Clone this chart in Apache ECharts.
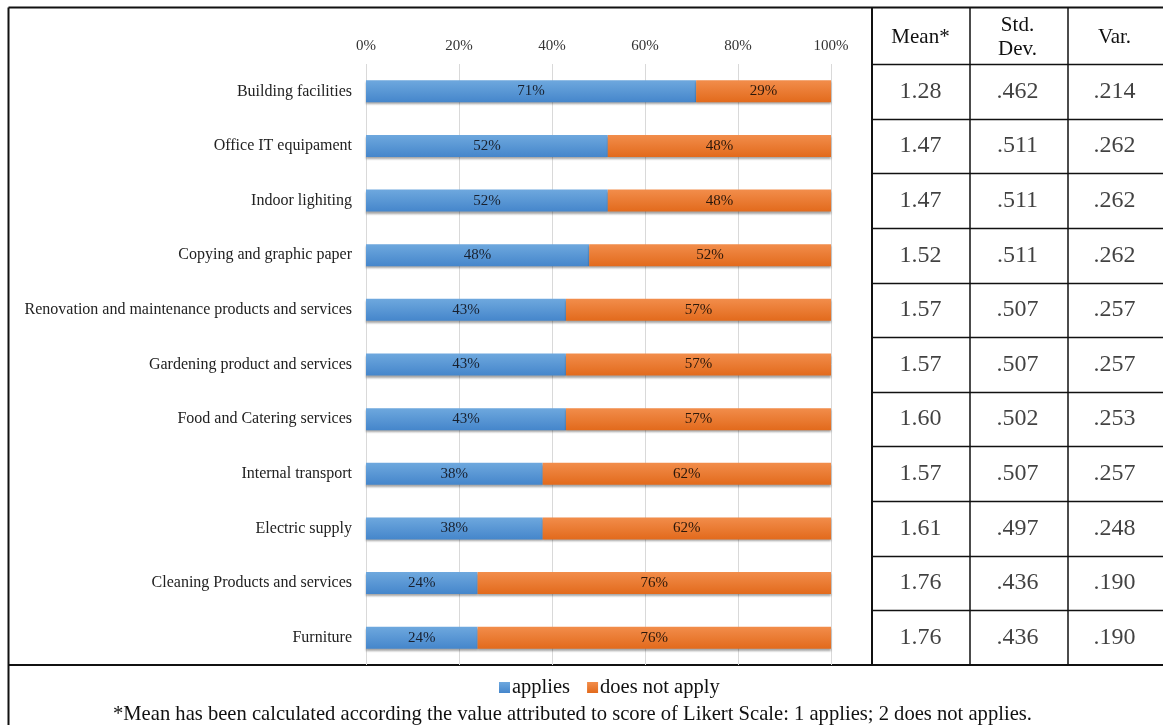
<!DOCTYPE html>
<html>
<head>
<meta charset="utf-8">
<script src="https://cdn.jsdelivr.net/npm/echarts@6/dist/echarts.min.js"></script>
<style>
  html, body { margin: 0; padding: 0; background: #fff; }
  #chart { width: 1163px; height: 725px; }
</style>
</head>
<body>
<div id="chart"></div>
<script>
// Procurement categories and share of respondents
const categories = [
  'Building facilities',
  'Office IT equipament',
  'Indoor lighiting',
  'Copying and graphic paper',
  'Renovation and maintenance products and services',
  'Gardening product and services',
  'Food and Catering services',
  'Internal transport',
  'Electric supply',
  'Cleaning Products and services',
  'Furniture'
];
const applies      = [71, 52, 52, 48, 43, 43, 43, 38, 38, 24, 24];
const doesNotApply = [29, 48, 48, 52, 57, 57, 57, 62, 62, 76, 76];

// Descriptive statistics per category
const tableHeaders = ['Mean*', 'Std.\nDev.', 'Var.'];
const meanVals = ['1.28', '1.47', '1.47', '1.52', '1.57', '1.57', '1.60', '1.57', '1.61', '1.76', '1.76'];
const stdVals  = ['.462', '.511', '.511', '.511', '.507', '.507', '.502', '.507', '.497', '.436', '.436'];
const varVals  = ['.214', '.262', '.262', '.262', '.257', '.257', '.253', '.257', '.248', '.190', '.190'];

const xTicks = [0, 20, 40, 60, 80, 100];
const footnote = '*Mean has been calculated according the value attributed to score of Likert Scale: 1 applies; 2 does not applies.';

const FONT = '"Liberation Serif", "Times New Roman", serif';

// layout
const W = 1163, H = 725;
const FRAME_L = 8.5, FRAME_T = 7.5;
const ROWS_TOP = 64, ROWS_BOTTOM = 665;
const TABLE_L = 872, TABLE_R = 1163;
const COL_X = [872, 970, 1068, 1163];

function grad(top, bottom) {
  return new echarts.graphic.LinearGradient(0, 0, 0, 1, [
    { offset: 0, color: top }, { offset: 1, color: bottom }
  ]);
}

// table cell data [col, row, text]
const cellData = [];
[meanVals, stdVals, varVals].forEach((arr, c) => {
  arr.forEach((v, r) => cellData.push([c, r, v]));
});

// table rules
const lines = [];
function hline(x1, x2, y, w) {
  lines.push({ type: 'line', shape: { x1, y1: y, x2, y2: y }, style: { stroke: '#111', lineWidth: w || 1.5 } });
}
function vline(x, y1, y2, w) {
  lines.push({ type: 'line', shape: { x1: x, y1, x2: x, y2 }, style: { stroke: '#111', lineWidth: w || 1.5 } });
}
hline(FRAME_L, W, FRAME_T, 2);
vline(FRAME_L, FRAME_T, H, 2);
hline(FRAME_L, W, ROWS_BOTTOM, 2);
vline(COL_X[0], FRAME_T, ROWS_BOTTOM, 2);
vline(COL_X[1], FRAME_T, ROWS_BOTTOM, 1.5);
vline(COL_X[2], FRAME_T, ROWS_BOTTOM, 1.5);
const rowH = (ROWS_BOTTOM - ROWS_TOP) / categories.length;
for (let i = 0; i < categories.length; i++) {
  hline(TABLE_L, TABLE_R, Math.round(ROWS_TOP + i * rowH) + 0.5, 1.5);
}

const chart = echarts.init(document.getElementById('chart'), null, { renderer: 'canvas' });

const option = {
  backgroundColor: '#fff',
  animation: false,
  textStyle: { fontFamily: FONT },
  grid: [
    { left: 366, right: W - 831, top: ROWS_TOP, bottom: H - ROWS_BOTTOM },
    { left: TABLE_L, right: W - TABLE_R, top: ROWS_TOP, bottom: H - ROWS_BOTTOM }
  ],
  legend: {
    data: ['applies', 'does not apply'],
    left: 494,
    top: 672,
    itemWidth: 11,
    itemHeight: 11,
    itemGap: 17,
    icon: 'rect',
    textStyle: { fontFamily: FONT, fontSize: 20.5, color: '#111', padding: [0, 0, 0, -3] }
  },
  xAxis: [
    {
      gridIndex: 0,
      type: 'value',
      position: 'top',
      min: 0,
      max: 100,
      interval: 20,
      axisLine: { show: false },
      axisTick: { show: false },
      axisLabel: { formatter: '{value}%', fontFamily: FONT, fontSize: 15, color: '#333', margin: 10 },
      splitLine: { show: true, lineStyle: { color: '#d9d9d9', width: 1 } }
    },
    {
      gridIndex: 1,
      type: 'category',
      position: 'top',
      data: tableHeaders,
      axisLine: { show: false },
      axisTick: { show: false },
      axisLabel: { fontFamily: FONT, fontSize: 21, color: '#111', margin: 27, verticalAlign: 'middle', lineHeight: 24, interval: 0 }
    }
  ],
  yAxis: [
    {
      gridIndex: 0,
      type: 'category',
      inverse: true,
      data: categories,
      axisLine: { show: false },
      axisTick: { show: false },
      axisLabel: { fontFamily: FONT, fontSize: 16, color: '#222', margin: 14, interval: 0 }
    },
    {
      gridIndex: 1,
      type: 'category',
      inverse: true,
      data: categories,
      show: false
    }
  ],
  series: [
    {
      name: 'applies',
      type: 'bar',
      stack: 'share',
      xAxisIndex: 0, yAxisIndex: 0,
      data: applies,
      barWidth: 22,
      itemStyle: {
        color: grad('#6ea8de', '#4586cb'),
        shadowColor: 'rgba(0,0,0,0.35)', shadowBlur: 2, shadowOffsetY: 2
      },
      label: { show: true, position: 'inside', formatter: '{c}%', fontFamily: FONT, fontSize: 15, color: '#18202e' }
    },
    {
      name: 'does not apply',
      type: 'bar',
      stack: 'share',
      xAxisIndex: 0, yAxisIndex: 0,
      data: doesNotApply,
      barWidth: 22,
      itemStyle: {
        color: grad('#f28d4b', '#e26a1c'),
        shadowColor: 'rgba(0,0,0,0.35)', shadowBlur: 2, shadowOffsetY: 2
      },
      label: { show: true, position: 'inside', formatter: '{c}%', fontFamily: FONT, fontSize: 15, color: '#2a170a' }
    },
    {
      name: 'stats',
      type: 'scatter',
      xAxisIndex: 1, yAxisIndex: 1,
      data: cellData,
      symbolSize: 0,
      silent: true,
      label: {
        show: true,
        position: 'inside',
        formatter: p => p.data[2],
        fontFamily: FONT,
        fontSize: 24,
        color: '#111'
      }
    }
  ],
  graphic: lines.concat([
    {
      type: 'text',
      left: 113,
      top: 704,
      style: { text: footnote, fontFamily: FONT, fontSize: 20.6, fill: '#111' }
    }
  ])
};

chart.setOption(option);
</script>
</body>
</html>
